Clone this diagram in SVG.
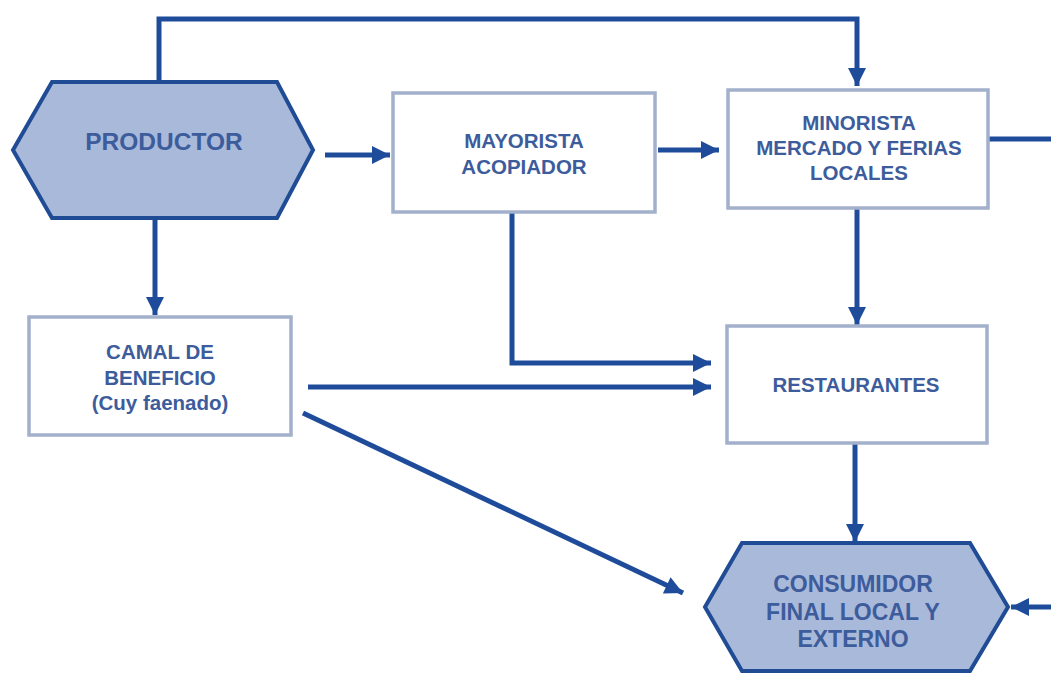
<svg xmlns="http://www.w3.org/2000/svg" width="1051" height="673" viewBox="0 0 1051 673">
<defs>
<style>
.hex{fill:#a9b9d9;stroke:#1f4c94;stroke-width:4;stroke-linejoin:miter}
.box{fill:#ffffff;stroke:#a3b0cb;stroke-width:3.5}
.t{font-family:"Liberation Sans",Arial,sans-serif;font-weight:bold;fill:#3d5c9c;text-anchor:middle}
.t21{font-size:20.5px}
.con{fill:none;stroke:#1f4c9a;stroke-width:5;stroke-linejoin:miter}
.arr{marker-end:url(#ah)}
</style>
<marker id="ah" viewBox="0 0 10 10" refX="10" refY="5" markerWidth="19" markerHeight="18" markerUnits="userSpaceOnUse" orient="auto">
<path d="M0,0 L10,5 L0,10 Z" fill="#1f4c9a"/>
</marker>
</defs>
<rect width="1051" height="673" fill="#ffffff"/>
<g id="connectors">
<path class="con arr" d="M159,82 V19 H857 V86"/>
<path class="con arr" d="M325,155 H390"/>
<path class="con arr" d="M658,150 H719"/>
<path class="con arr" d="M155,218 V315"/>
<path class="con arr" d="M512,212 V363 H711"/>
<path class="con arr" d="M308,387 H711"/>
<path class="con arr" d="M303,413 L683,593"/>
<path class="con arr" d="M857,208 V325"/>
<path class="con arr" d="M855,443 V542"/>
<path class="con arr" d="M988,139 H1062 V607 H1011"/>
</g>
<g id="productor">
<polygon class="hex" points="13,150 52,82 277,82 313,150 277,218 52,218"/>
<text class="t" x="164" y="150" font-size="24.5">PRODUCTOR</text>
</g>
<g id="mayorista">
<rect class="box" x="393" y="93" width="262" height="119"/>
<text class="t t21" x="524" y="148">MAYORISTA</text>
<text class="t t21" x="524" y="174">ACOPIADOR</text>
</g>
<g id="minorista">
<rect class="box" x="728" y="90" width="260" height="118"/>
<text class="t t21" x="859" y="130">MINORISTA</text>
<text class="t t21" x="859" y="155">MERCADO Y FERIAS</text>
<text class="t t21" x="859" y="180">LOCALES</text>
</g>
<g id="camal">
<rect class="box" x="29" y="317" width="262" height="118"/>
<text class="t t21" x="160" y="359">CAMAL DE</text>
<text class="t t21" x="160" y="385">BENEFICIO</text>
<text class="t t21" x="160" y="410">(Cuy faenado)</text>
</g>
<g id="restaurantes">
<rect class="box" x="727" y="326" width="260" height="117"/>
<text class="t t21" x="856" y="392">RESTAURANTES</text>
</g>
<g id="consumidor">
<polygon class="hex" points="705,607 742,543 970,543 1008,607 970,671 742,671"/>
<text class="t" x="853" y="592" font-size="23">CONSUMIDOR</text>
<text class="t" x="853" y="620" font-size="23">FINAL LOCAL Y</text>
<text class="t" x="853" y="647" font-size="23">EXTERNO</text>
</g>
</svg>
